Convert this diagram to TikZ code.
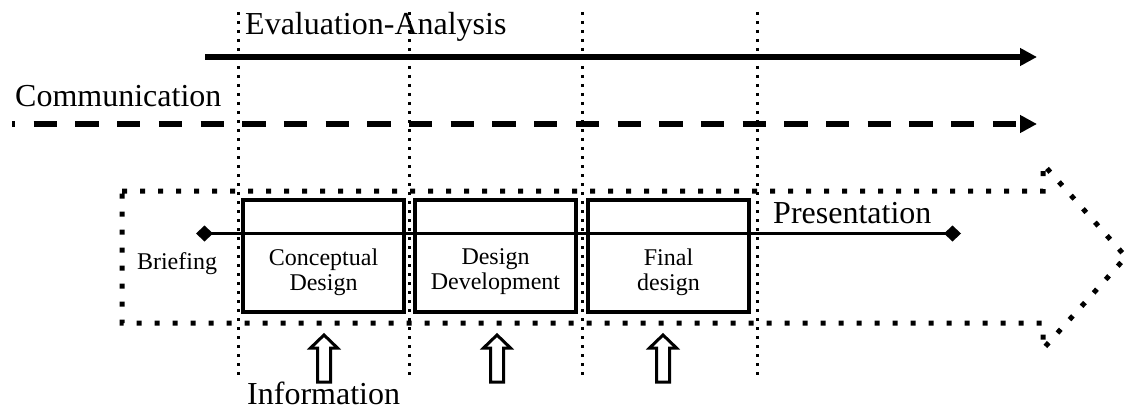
\documentclass[tikz,border=0pt]{standalone}
\usepackage{fontspec}
\setmainfont{Liberation Serif}
\usetikzlibrary{arrows.meta}
\tikzset{
  vdot/.style={line width=3pt, dash pattern=on 3pt off 6pt},
  bigdot/.style={line width=5pt, dash pattern=on 5pt off 13pt, line cap=butt},
  stagebox/.style={draw, line width=3.5pt, minimum width=161pt, minimum height=112pt, inner sep=0pt},
  stagetext/.style={align=center, font=\fontsize{24}{25}\selectfont, inner sep=0pt},
  biglabel/.style={font=\fontsize{32}{36}\selectfont, inner sep=0pt},
  flow/.style={line width=5.5pt},
  infoarrow/.pic={
    \draw[line width=3pt, fill=white, line join=miter]
      (-6.5,47) -- (-6.5,13) -- (-13.5,13) -- (0,0) -- (13.5,13) -- (6.5,13) -- (6.5,47) -- cycle;
  }
}
\begin{document}
\begin{tikzpicture}[x=1pt,y=-1pt]
\useasboundingbox (0,0) rectangle (1129,409);

% vertical dotted phase separators
\foreach \n/\x in {1/238,2/409,3/582,4/757}{
  \coordinate (v\n t) at (\x,12);
  \coordinate (v\n b) at (\x,378);
  \draw[vdot] (v\n t) -- (v\n b);
}

% Evaluation-Analysis
\node[biglabel, anchor=base west] (eval) at (245,35) {Evaluation-Analysis};
\coordinate (es) at (205,57);
\coordinate (ee) at (1037,57);
\draw[flow, -{Triangle[length=17pt,width=17pt]}] (es) -- (ee);

% Communication
\node[biglabel, anchor=base west] (comm) at (15,107) {Communication};
\coordinate (cs) at (12,124);
\coordinate (ce) at (1037,124);
\draw[flow, dash pattern=on 23.3pt off 18.4pt, dash phase=20pt, -{Triangle[length=17pt,width=17pt]}] (cs) -- (ce);

% big dotted arrow outline
\draw[bigdot] (122,191) -- (1043,191) -- (1043,164) -- (1126,257) -- (1043,349) -- (1043,323) -- (122,323) -- cycle;

% stage boxes
\node[stagebox] (cd) at (323.5,256) {};
\node[stagebox] (dd) at (495.5,256) {};
\node[stagebox] (fd) at (668.5,256) {};
\node[stagetext] (cdt) at (323.5,272) {Conceptual\\Design};
\node[stagetext] (ddt) at (495.5,272) {Design\\Development};
\node[stagetext] (fdt) at (668.5,272) {Final\\design};
\node[stagetext, anchor=base] (brief) at (177,269) {Briefing};

% presentation line
\coordinate (ls) at (196,233.5);
\coordinate (le) at (961,233.5);
\draw[line width=3.5pt, {Diamond[length=17pt,width=16pt]}-{Diamond[length=17pt,width=16pt]}] (ls) -- (le);
\node[biglabel, anchor=base west] (pres) at (773,223) {Presentation};

% information arrows
\pic at (324,335) {infoarrow};
\pic at (497,335) {infoarrow};
\pic at (663,335) {infoarrow};
\node[biglabel, anchor=base west] (info) at (247,404) {Information};
\end{tikzpicture}
\end{document}
